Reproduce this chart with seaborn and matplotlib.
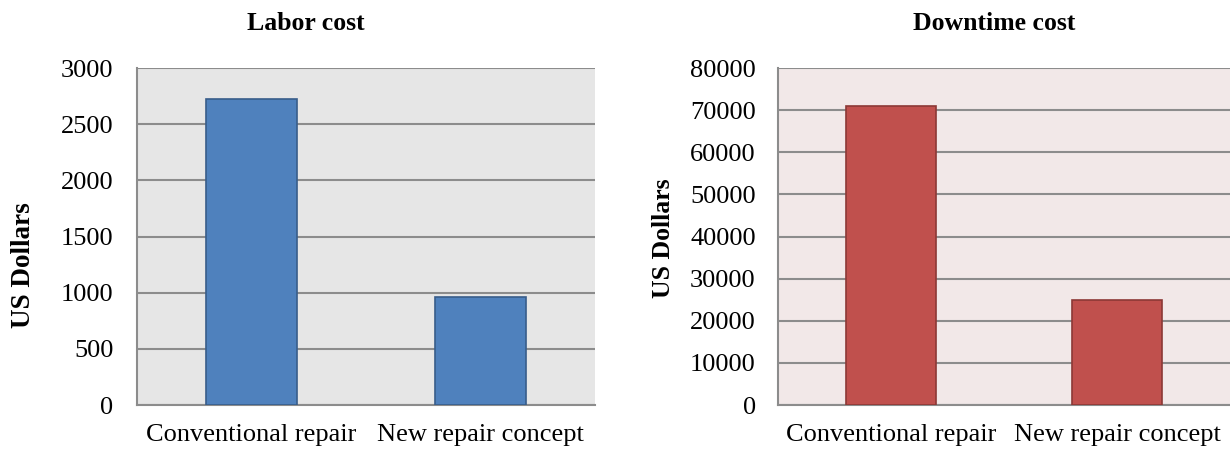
import numpy as np
import pandas as pd
import matplotlib
matplotlib.use("Agg")
import matplotlib.pyplot as plt
import seaborn as sns

# data
categories = ['Conventional repair', 'New repair concept']
labor_cost = [2720, 960]
downtime_cost = [71000, 25000]

sns.set_theme(style='white')
plt.rcParams['font.family'] = ['Liberation Serif', 'DejaVu Serif']
plt.rcParams['text.color'] = 'black'

fig = plt.figure(figsize=(12.3, 4.51), dpi=100)
W, H = 1230, 451

ax1 = fig.add_axes([137 / W, (H - 405) / H, 458 / W, 337 / H])
ax2 = fig.add_axes([778 / W, (H - 405) / H, 452 / W, 337 / H])


def draw(ax, vals, color, edge, bg, ymax, step):
    df = pd.DataFrame({'cat': categories, 'val': vals})
    sns.barplot(data=df, x='cat', y='val', color=color, edgecolor=edge,
                linewidth=1.2, width=0.4, saturation=1, ax=ax, zorder=3)
    ax.set_facecolor(bg)
    ax.set_ylim(0, ymax)
    ax.set_xlim(-0.5, 1.5)
    ax.set_yticks(np.arange(0, ymax + 1, step))
    ax.yaxis.grid(True, color='#8c8c8c', linewidth=1.5, zorder=0)
    ax.set_axisbelow(True)
    for s in ['top', 'right']:
        ax.spines[s].set_visible(False)
    for s in ['left', 'bottom']:
        ax.spines[s].set_color('#8c8c8c')
        ax.spines[s].set_linewidth(1.5)
    ax.tick_params(axis='both', labelsize=19, colors='black')
    ax.tick_params(axis='x', length=0, pad=14)
    ax.set_xlabel('')
    ax.set_ylabel('')


draw(ax1, labor_cost, '#4f81bd', '#385d8a', '#e6e6e6', 3000, 500)
draw(ax2, downtime_cost, '#c0504d', '#8c3836', '#f2e8e8', 80000, 10000)
ax1.tick_params(axis='y', length=6, width=1.5, color='#8c8c8c', pad=11)
ax2.tick_params(axis='y', length=0, pad=16)

fig.text(306 / W, 1 - 23 / H, 'Labor cost', ha='center', va='center',
         fontsize=18.5, fontweight='bold')
fig.text(994 / W, 1 - 24 / H, 'Downtime cost', ha='center', va='center',
         fontsize=18.5, fontweight='bold')
fig.text(24 / W, 1 - 265 / H, 'US Dollars', ha='center', va='center',
         rotation=90, fontsize=19.5, fontweight='bold')
fig.text(664 / W, 1 - 238 / H, 'US Dollars', ha='center', va='center',
         rotation=90, fontsize=18.5, fontweight='bold')

fig.savefig('out.png', dpi=100, facecolor='white')
